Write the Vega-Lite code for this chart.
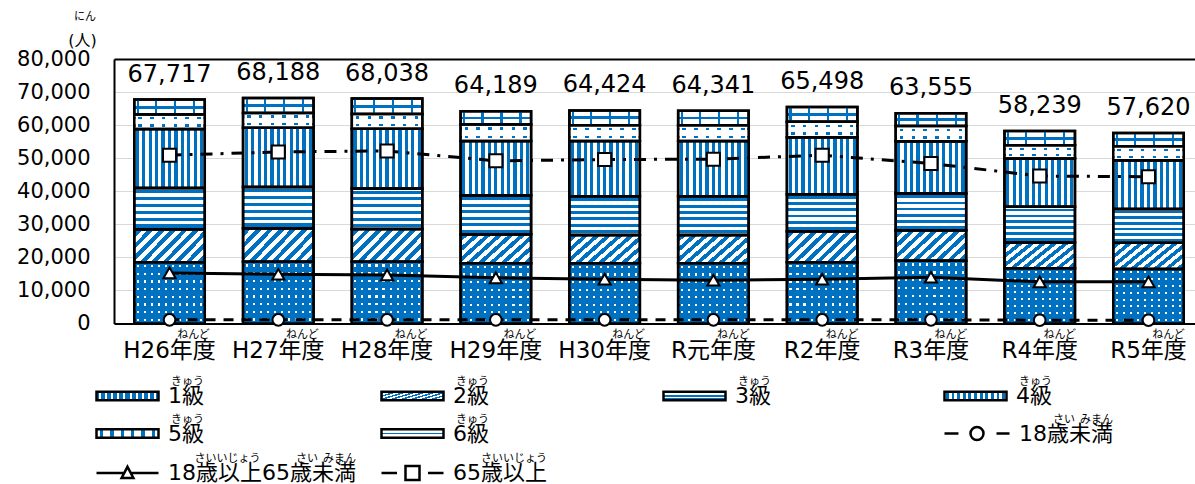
{
  "$schema": "https://vega.github.io/schema/vega-lite/v6.json",
  "width": 1081,
  "height": 264.5,
  "autosize": "none",
  "padding": {"left": 114, "top": 59, "right": 0, "bottom": 160.5},
  "background": "white",
  "title": {"text": "にん", "anchor": "start", "frame": "group", "orient": "top", "dx": -40, "offset": 10, "fontSize": 11, "font": "Noto Sans CJK JP", "fontWeight": "normal", "color": "black"},
  "config": {
    "view": {"stroke": null},
    "font": "DejaVu Sans, Noto Sans CJK JP",
    "legend": {"orient": "none", "padding": 0, "labelFontSize": 22, "labelColor": "black", "labelFont": "DejaVu Sans, Noto Sans CJK JP", "titleFont": "Noto Sans CJK JP", "titleFontSize": 11, "titleFontWeight": "normal", "titleColor": "black", "titlePadding": 0, "titleAnchor": "end", "clipHeight": 18, "symbolSize": 3844, "labelOffset": 8, "symbolStrokeWidth": 2.5, "symbolOffset": 0, "labelLimit": 400}
  },
  "datasets": {
    "grades": [
      {"year": "H26年度", "grade": "1級", "value": 18500}, {"year": "H26年度", "grade": "2級", "value": 10000}, {"year": "H26年度", "grade": "3級", "value": 12500}, {"year": "H26年度", "grade": "4級", "value": 17800}, {"year": "H26年度", "grade": "5級", "value": 4400}, {"year": "H26年度", "grade": "6級", "value": 4517},
      {"year": "H27年度", "grade": "1級", "value": 18700}, {"year": "H27年度", "grade": "2級", "value": 10100}, {"year": "H27年度", "grade": "3級", "value": 12500}, {"year": "H27年度", "grade": "4級", "value": 17900}, {"year": "H27年度", "grade": "5級", "value": 4500}, {"year": "H27年度", "grade": "6級", "value": 4488},
      {"year": "H28年度", "grade": "1級", "value": 18700}, {"year": "H28年度", "grade": "2級", "value": 9900}, {"year": "H28年度", "grade": "3級", "value": 12200}, {"year": "H28年度", "grade": "4級", "value": 18100}, {"year": "H28年度", "grade": "5級", "value": 4500}, {"year": "H28年度", "grade": "6級", "value": 4638},
      {"year": "H29年度", "grade": "1級", "value": 18200}, {"year": "H29年度", "grade": "2級", "value": 8800}, {"year": "H29年度", "grade": "3級", "value": 11700}, {"year": "H29年度", "grade": "4級", "value": 16500}, {"year": "H29年度", "grade": "5級", "value": 5000}, {"year": "H29年度", "grade": "6級", "value": 3989},
      {"year": "H30年度", "grade": "1級", "value": 18200}, {"year": "H30年度", "grade": "2級", "value": 8600}, {"year": "H30年度", "grade": "3級", "value": 11700}, {"year": "H30年度", "grade": "4級", "value": 16700}, {"year": "H30年度", "grade": "5級", "value": 4800}, {"year": "H30年度", "grade": "6級", "value": 4424},
      {"year": "R元年度", "grade": "1級", "value": 18200}, {"year": "R元年度", "grade": "2級", "value": 8600}, {"year": "R元年度", "grade": "3級", "value": 11700}, {"year": "R元年度", "grade": "4級", "value": 16700}, {"year": "R元年度", "grade": "5級", "value": 4800}, {"year": "R元年度", "grade": "6級", "value": 4341},
      {"year": "R2年度", "grade": "1級", "value": 18500}, {"year": "R2年度", "grade": "2級", "value": 9400}, {"year": "R2年度", "grade": "3級", "value": 11200}, {"year": "R2年度", "grade": "4級", "value": 17200}, {"year": "R2年度", "grade": "5級", "value": 4700}, {"year": "R2年度", "grade": "6級", "value": 4498},
      {"year": "R3年度", "grade": "1級", "value": 19000}, {"year": "R3年度", "grade": "2級", "value": 9200}, {"year": "R3年度", "grade": "3級", "value": 11100}, {"year": "R3年度", "grade": "4級", "value": 15800}, {"year": "R3年度", "grade": "5級", "value": 4600}, {"year": "R3年度", "grade": "6級", "value": 3855},
      {"year": "R4年度", "grade": "1級", "value": 16700}, {"year": "R4年度", "grade": "2級", "value": 7800}, {"year": "R4年度", "grade": "3級", "value": 10800}, {"year": "R4年度", "grade": "4級", "value": 14600}, {"year": "R4年度", "grade": "5級", "value": 4000}, {"year": "R4年度", "grade": "6級", "value": 4339},
      {"year": "R5年度", "grade": "1級", "value": 16500}, {"year": "R5年度", "grade": "2級", "value": 7900}, {"year": "R5年度", "grade": "3級", "value": 10200}, {"year": "R5年度", "grade": "4級", "value": 14800}, {"year": "R5年度", "grade": "5級", "value": 4200}, {"year": "R5年度", "grade": "6級", "value": 4020}
    ],
    "totals": [
      {"year": "H26年度", "total": 67717}, {"year": "H27年度", "total": 68188}, {"year": "H28年度", "total": 68038}, {"year": "H29年度", "total": 64189}, {"year": "H30年度", "total": 64424},
      {"year": "R元年度", "total": 64341}, {"year": "R2年度", "total": 65498}, {"year": "R3年度", "total": 63555}, {"year": "R4年度", "total": 58239}, {"year": "R5年度", "total": 57620}
    ],
    "ages": [
      {"year": "H26年度", "series": "18歳未満", "value": 1100}, {"year": "H27年度", "series": "18歳未満", "value": 1100}, {"year": "H28年度", "series": "18歳未満", "value": 1100}, {"year": "H29年度", "series": "18歳未満", "value": 1100}, {"year": "H30年度", "series": "18歳未満", "value": 1100},
      {"year": "R元年度", "series": "18歳未満", "value": 1100}, {"year": "R2年度", "series": "18歳未満", "value": 1100}, {"year": "R3年度", "series": "18歳未満", "value": 1100}, {"year": "R4年度", "series": "18歳未満", "value": 1000}, {"year": "R5年度", "series": "18歳未満", "value": 1000},
      {"year": "H26年度", "series": "18歳以上65歳未満", "value": 15300}, {"year": "H27年度", "series": "18歳以上65歳未満", "value": 14900}, {"year": "H28年度", "series": "18歳以上65歳未満", "value": 14700}, {"year": "H29年度", "series": "18歳以上65歳未満", "value": 13800}, {"year": "H30年度", "series": "18歳以上65歳未満", "value": 13400},
      {"year": "R元年度", "series": "18歳以上65歳未満", "value": 13100}, {"year": "R2年度", "series": "18歳以上65歳未満", "value": 13400}, {"year": "R3年度", "series": "18歳以上65歳未満", "value": 14000}, {"year": "R4年度", "series": "18歳以上65歳未満", "value": 12600}, {"year": "R5年度", "series": "18歳以上65歳未満", "value": 12600},
      {"year": "H26年度", "series": "65歳以上", "value": 50900}, {"year": "H27年度", "series": "65歳以上", "value": 51900}, {"year": "H28年度", "series": "65歳以上", "value": 52200}, {"year": "H29年度", "series": "65歳以上", "value": 49200}, {"year": "H30年度", "series": "65歳以上", "value": 49600},
      {"year": "R元年度", "series": "65歳以上", "value": 49700}, {"year": "R2年度", "series": "65歳以上", "value": 50900}, {"year": "R3年度", "series": "65歳以上", "value": 48400}, {"year": "R4年度", "series": "65歳以上", "value": 44600}, {"year": "R5年度", "series": "65歳以上", "value": 44400}
    ]
  },
  "layer": [
    {
      "data": {"name": "grades"},
      "transform": [{"stack": "value", "groupby": ["year"], "sort": [{"field": "grade", "order": "ascending"}], "as": ["v0", "v1"]}, {"filter": "datum.grade === '1級'"}],
      "mark": {"type": "bar", "strokeWidth": 2.5, "fill": {"gradient": "linear", "x1": 0, "y1": 0, "x2": 1, "y2": 0, "stops": [
            {"offset": 0, "color": "#0070c0"},
            {"offset": 0.035, "color": "#0070c0"}, {"offset": 0.035, "color": "#ffffff"}, {"offset": 0.065, "color": "#ffffff"}, {"offset": 0.065, "color": "#0070c0"},
            {"offset": 0.135, "color": "#0070c0"}, {"offset": 0.135, "color": "#ffffff"}, {"offset": 0.165, "color": "#ffffff"}, {"offset": 0.165, "color": "#0070c0"},
            {"offset": 0.235, "color": "#0070c0"}, {"offset": 0.235, "color": "#ffffff"}, {"offset": 0.265, "color": "#ffffff"}, {"offset": 0.265, "color": "#0070c0"},
            {"offset": 0.335, "color": "#0070c0"}, {"offset": 0.335, "color": "#ffffff"}, {"offset": 0.365, "color": "#ffffff"}, {"offset": 0.365, "color": "#0070c0"},
            {"offset": 0.435, "color": "#0070c0"}, {"offset": 0.435, "color": "#ffffff"}, {"offset": 0.465, "color": "#ffffff"}, {"offset": 0.465, "color": "#0070c0"},
            {"offset": 0.535, "color": "#0070c0"}, {"offset": 0.535, "color": "#ffffff"}, {"offset": 0.565, "color": "#ffffff"}, {"offset": 0.565, "color": "#0070c0"},
            {"offset": 0.635, "color": "#0070c0"}, {"offset": 0.635, "color": "#ffffff"}, {"offset": 0.665, "color": "#ffffff"}, {"offset": 0.665, "color": "#0070c0"},
            {"offset": 0.735, "color": "#0070c0"}, {"offset": 0.735, "color": "#ffffff"}, {"offset": 0.765, "color": "#ffffff"}, {"offset": 0.765, "color": "#0070c0"},
            {"offset": 0.835, "color": "#0070c0"}, {"offset": 0.835, "color": "#ffffff"}, {"offset": 0.865, "color": "#ffffff"}, {"offset": 0.865, "color": "#0070c0"},
            {"offset": 0.935, "color": "#0070c0"}, {"offset": 0.935, "color": "#ffffff"}, {"offset": 0.965, "color": "#ffffff"}, {"offset": 0.965, "color": "#0070c0"},
            {"offset": 1, "color": "#0070c0"}
          ]}},
      "encoding": {
        "x": {"field": "year", "type": "nominal", "scale": {"domain": ["H26年度", "H27年度", "H28年度", "H29年度", "H30年度", "R元年度", "R2年度", "R3年度", "R4年度", "R5年度"], "paddingInner": 0.352, "paddingOuter": 0.145, "align": 0.643}, "axis": null},
        "y": {"field": "v1", "type": "quantitative", "scale": {"domain": [0, 80000], "nice": false}, "axis": null},
        "y2": {"field": "v0"},
        "stroke": {"field": "grade", "type": "nominal", "scale": {"range": ["black"]}, "legend": {"title": "きゅう", "legendX": -19, "legendY": 317, "symbolType": "M-1,-0.14L1,-0.14L1,0.14L-1,0.14Z", "labelExpr": "datum.label + '\u00a0'"}}
      }
    },
    {
      "data": {"name": "grades"},
      "transform": [{"stack": "value", "groupby": ["year"], "sort": [{"field": "grade", "order": "ascending"}], "as": ["v0", "v1"]}, {"filter": "datum.grade === '2級'"}],
      "mark": {"type": "bar", "strokeWidth": 2.5, "fill": {"gradient": "linear", "x1": 0, "y1": 0, "x2": 1.205, "y2": 0.552, "stops": [
            {"offset": 0, "color": "#ffffff"},
            {"offset": 0.028, "color": "#ffffff"}, {"offset": 0.028, "color": "#0070c0"}, {"offset": 0.083, "color": "#0070c0"}, {"offset": 0.083, "color": "#ffffff"},
            {"offset": 0.139, "color": "#ffffff"}, {"offset": 0.139, "color": "#0070c0"}, {"offset": 0.194, "color": "#0070c0"}, {"offset": 0.194, "color": "#ffffff"},
            {"offset": 0.25, "color": "#ffffff"}, {"offset": 0.25, "color": "#0070c0"}, {"offset": 0.306, "color": "#0070c0"}, {"offset": 0.306, "color": "#ffffff"},
            {"offset": 0.361, "color": "#ffffff"}, {"offset": 0.361, "color": "#0070c0"}, {"offset": 0.417, "color": "#0070c0"}, {"offset": 0.417, "color": "#ffffff"},
            {"offset": 0.472, "color": "#ffffff"}, {"offset": 0.472, "color": "#0070c0"}, {"offset": 0.528, "color": "#0070c0"}, {"offset": 0.528, "color": "#ffffff"},
            {"offset": 0.583, "color": "#ffffff"}, {"offset": 0.583, "color": "#0070c0"}, {"offset": 0.639, "color": "#0070c0"}, {"offset": 0.639, "color": "#ffffff"},
            {"offset": 0.694, "color": "#ffffff"}, {"offset": 0.694, "color": "#0070c0"}, {"offset": 0.75, "color": "#0070c0"}, {"offset": 0.75, "color": "#ffffff"},
            {"offset": 0.806, "color": "#ffffff"}, {"offset": 0.806, "color": "#0070c0"}, {"offset": 0.861, "color": "#0070c0"}, {"offset": 0.861, "color": "#ffffff"},
            {"offset": 0.917, "color": "#ffffff"}, {"offset": 0.917, "color": "#0070c0"}, {"offset": 0.972, "color": "#0070c0"}, {"offset": 0.972, "color": "#ffffff"},
            {"offset": 1, "color": "#ffffff"}
          ]}},
      "encoding": {
        "x": {"field": "year", "type": "nominal", "scale": {"domain": ["H26年度", "H27年度", "H28年度", "H29年度", "H30年度", "R元年度", "R2年度", "R3年度", "R4年度", "R5年度"], "paddingInner": 0.352, "paddingOuter": 0.145, "align": 0.643}, "axis": null},
        "y": {"field": "v1", "type": "quantitative", "scale": {"domain": [0, 80000], "nice": false}, "axis": null},
        "y2": {"field": "v0"},
        "stroke": {"field": "grade", "type": "nominal", "scale": {"range": ["black"]}, "legend": {"title": "きゅう", "legendX": 266, "legendY": 317, "symbolType": "M-1,-0.14L1,-0.14L1,0.14L-1,0.14Z", "labelExpr": "datum.label + '\u00a0'"}}
      }
    },
    {
      "data": {"name": "grades"},
      "transform": [{"stack": "value", "groupby": ["year"], "sort": [{"field": "grade", "order": "ascending"}], "as": ["v0", "v1"]}, {"filter": "datum.grade === '3級'"}],
      "mark": {"type": "bar", "strokeWidth": 2.5, "fill": {"gradient": "linear", "x1": 0, "y1": 0, "x2": 0, "y2": 1, "stops": [
            {"offset": 0, "color": "#ffffff"},
            {"offset": 0.05, "color": "#ffffff"}, {"offset": 0.05, "color": "#0070c0"}, {"offset": 0.125, "color": "#0070c0"}, {"offset": 0.125, "color": "#ffffff"},
            {"offset": 0.217, "color": "#ffffff"}, {"offset": 0.217, "color": "#0070c0"}, {"offset": 0.292, "color": "#0070c0"}, {"offset": 0.292, "color": "#ffffff"},
            {"offset": 0.383, "color": "#ffffff"}, {"offset": 0.383, "color": "#0070c0"}, {"offset": 0.458, "color": "#0070c0"}, {"offset": 0.458, "color": "#ffffff"},
            {"offset": 0.55, "color": "#ffffff"}, {"offset": 0.55, "color": "#0070c0"}, {"offset": 0.625, "color": "#0070c0"}, {"offset": 0.625, "color": "#ffffff"},
            {"offset": 0.717, "color": "#ffffff"}, {"offset": 0.717, "color": "#0070c0"}, {"offset": 0.792, "color": "#0070c0"}, {"offset": 0.792, "color": "#ffffff"},
            {"offset": 0.883, "color": "#ffffff"}, {"offset": 0.883, "color": "#0070c0"}, {"offset": 0.958, "color": "#0070c0"}, {"offset": 0.958, "color": "#ffffff"},
            {"offset": 1, "color": "#ffffff"}
          ]}},
      "encoding": {
        "x": {"field": "year", "type": "nominal", "scale": {"domain": ["H26年度", "H27年度", "H28年度", "H29年度", "H30年度", "R元年度", "R2年度", "R3年度", "R4年度", "R5年度"], "paddingInner": 0.352, "paddingOuter": 0.145, "align": 0.643}, "axis": null},
        "y": {"field": "v1", "type": "quantitative", "scale": {"domain": [0, 80000], "nice": false}, "axis": null},
        "y2": {"field": "v0"},
        "stroke": {"field": "grade", "type": "nominal", "scale": {"range": ["black"]}, "legend": {"title": "きゅう", "legendX": 548, "legendY": 317, "symbolType": "M-1,-0.14L1,-0.14L1,0.14L-1,0.14Z", "labelExpr": "datum.label + '\u00a0'"}}
      }
    },
    {
      "data": {"name": "grades"},
      "transform": [{"stack": "value", "groupby": ["year"], "sort": [{"field": "grade", "order": "ascending"}], "as": ["v0", "v1"]}, {"filter": "datum.grade === '4級'"}],
      "mark": {"type": "bar", "strokeWidth": 2.5, "fill": {"gradient": "linear", "x1": 0, "y1": 0, "x2": 1, "y2": 0, "stops": [
            {"offset": 0, "color": "#ffffff"},
            {"offset": 0.023, "color": "#ffffff"}, {"offset": 0.023, "color": "#0070c0"}, {"offset": 0.068, "color": "#0070c0"}, {"offset": 0.068, "color": "#ffffff"},
            {"offset": 0.114, "color": "#ffffff"}, {"offset": 0.114, "color": "#0070c0"}, {"offset": 0.159, "color": "#0070c0"}, {"offset": 0.159, "color": "#ffffff"},
            {"offset": 0.205, "color": "#ffffff"}, {"offset": 0.205, "color": "#0070c0"}, {"offset": 0.25, "color": "#0070c0"}, {"offset": 0.25, "color": "#ffffff"},
            {"offset": 0.295, "color": "#ffffff"}, {"offset": 0.295, "color": "#0070c0"}, {"offset": 0.341, "color": "#0070c0"}, {"offset": 0.341, "color": "#ffffff"},
            {"offset": 0.386, "color": "#ffffff"}, {"offset": 0.386, "color": "#0070c0"}, {"offset": 0.432, "color": "#0070c0"}, {"offset": 0.432, "color": "#ffffff"},
            {"offset": 0.477, "color": "#ffffff"}, {"offset": 0.477, "color": "#0070c0"}, {"offset": 0.523, "color": "#0070c0"}, {"offset": 0.523, "color": "#ffffff"},
            {"offset": 0.568, "color": "#ffffff"}, {"offset": 0.568, "color": "#0070c0"}, {"offset": 0.614, "color": "#0070c0"}, {"offset": 0.614, "color": "#ffffff"},
            {"offset": 0.659, "color": "#ffffff"}, {"offset": 0.659, "color": "#0070c0"}, {"offset": 0.705, "color": "#0070c0"}, {"offset": 0.705, "color": "#ffffff"},
            {"offset": 0.75, "color": "#ffffff"}, {"offset": 0.75, "color": "#0070c0"}, {"offset": 0.795, "color": "#0070c0"}, {"offset": 0.795, "color": "#ffffff"},
            {"offset": 0.841, "color": "#ffffff"}, {"offset": 0.841, "color": "#0070c0"}, {"offset": 0.886, "color": "#0070c0"}, {"offset": 0.886, "color": "#ffffff"},
            {"offset": 0.932, "color": "#ffffff"}, {"offset": 0.932, "color": "#0070c0"}, {"offset": 0.977, "color": "#0070c0"}, {"offset": 0.977, "color": "#ffffff"},
            {"offset": 1, "color": "#ffffff"}
          ]}},
      "encoding": {
        "x": {"field": "year", "type": "nominal", "scale": {"domain": ["H26年度", "H27年度", "H28年度", "H29年度", "H30年度", "R元年度", "R2年度", "R3年度", "R4年度", "R5年度"], "paddingInner": 0.352, "paddingOuter": 0.145, "align": 0.643}, "axis": null},
        "y": {"field": "v1", "type": "quantitative", "scale": {"domain": [0, 80000], "nice": false}, "axis": null},
        "y2": {"field": "v0"},
        "stroke": {"field": "grade", "type": "nominal", "scale": {"range": ["black"]}, "legend": {"title": "きゅう", "legendX": 829, "legendY": 317, "symbolType": "M-1,-0.14L1,-0.14L1,0.14L-1,0.14Z", "labelExpr": "datum.label + '\u00a0'"}}
      }
    },
    {
      "data": {"name": "grades"},
      "transform": [{"stack": "value", "groupby": ["year"], "sort": [{"field": "grade", "order": "ascending"}], "as": ["v0", "v1"]}, {"filter": "datum.grade === '5級'"}],
      "mark": {"type": "bar", "strokeWidth": 2.5, "fill": {"gradient": "linear", "x1": 0, "y1": 0, "x2": 1, "y2": 0, "stops": [
            {"offset": 0, "color": "#ffffff"},
            {"offset": 0.058, "color": "#ffffff"}, {"offset": 0.058, "color": "#0070c0"}, {"offset": 0.108, "color": "#0070c0"}, {"offset": 0.108, "color": "#ffffff"},
            {"offset": 0.225, "color": "#ffffff"}, {"offset": 0.225, "color": "#0070c0"}, {"offset": 0.275, "color": "#0070c0"}, {"offset": 0.275, "color": "#ffffff"},
            {"offset": 0.392, "color": "#ffffff"}, {"offset": 0.392, "color": "#0070c0"}, {"offset": 0.442, "color": "#0070c0"}, {"offset": 0.442, "color": "#ffffff"},
            {"offset": 0.558, "color": "#ffffff"}, {"offset": 0.558, "color": "#0070c0"}, {"offset": 0.608, "color": "#0070c0"}, {"offset": 0.608, "color": "#ffffff"},
            {"offset": 0.725, "color": "#ffffff"}, {"offset": 0.725, "color": "#0070c0"}, {"offset": 0.775, "color": "#0070c0"}, {"offset": 0.775, "color": "#ffffff"},
            {"offset": 0.892, "color": "#ffffff"}, {"offset": 0.892, "color": "#0070c0"}, {"offset": 0.942, "color": "#0070c0"}, {"offset": 0.942, "color": "#ffffff"},
            {"offset": 1, "color": "#ffffff"}
          ]}},
      "encoding": {
        "x": {"field": "year", "type": "nominal", "scale": {"domain": ["H26年度", "H27年度", "H28年度", "H29年度", "H30年度", "R元年度", "R2年度", "R3年度", "R4年度", "R5年度"], "paddingInner": 0.352, "paddingOuter": 0.145, "align": 0.643}, "axis": null},
        "y": {"field": "v1", "type": "quantitative", "scale": {"domain": [0, 80000], "nice": false}, "axis": null},
        "y2": {"field": "v0"},
        "stroke": {"field": "grade", "type": "nominal", "scale": {"range": ["black"]}, "legend": {"title": "きゅう", "legendX": -19, "legendY": 354.5, "symbolType": "M-1,-0.14L1,-0.14L1,0.14L-1,0.14Z", "labelExpr": "datum.label + '\u00a0'"}}
      }
    },
    {
      "data": {"name": "grades"},
      "transform": [{"stack": "value", "groupby": ["year"], "sort": [{"field": "grade", "order": "ascending"}], "as": ["v0", "v1"]}, {"filter": "datum.grade === '6級'"}],
      "mark": {"type": "bar", "strokeWidth": 2.5, "fill": {"gradient": "linear", "x1": 0, "y1": 0, "x2": 0, "y2": 1, "stops": [
            {"offset": 0, "color": "#ffffff"},
            {"offset": 0.4, "color": "#ffffff"}, {"offset": 0.4, "color": "#0070c0"}, {"offset": 0.6, "color": "#0070c0"}, {"offset": 0.6, "color": "#ffffff"},
            {"offset": 1, "color": "#ffffff"}
          ]}},
      "encoding": {
        "x": {"field": "year", "type": "nominal", "scale": {"domain": ["H26年度", "H27年度", "H28年度", "H29年度", "H30年度", "R元年度", "R2年度", "R3年度", "R4年度", "R5年度"], "paddingInner": 0.352, "paddingOuter": 0.145, "align": 0.643}, "axis": null},
        "y": {"field": "v1", "type": "quantitative", "scale": {"domain": [0, 80000], "nice": false}, "axis": null},
        "y2": {"field": "v0"},
        "stroke": {"field": "grade", "type": "nominal", "scale": {"range": ["black"]}, "legend": {"title": "きゅう", "legendX": 266, "legendY": 354.5, "symbolType": "M-1,-0.14L1,-0.14L1,0.14L-1,0.14Z", "labelExpr": "datum.label + '\u00a0'"}}
      }
    },
    {
      "data": {"name": "grades"},
      "transform": [{"stack": "value", "groupby": ["year"], "sort": [{"field": "grade", "order": "ascending"}], "as": ["v0", "v1"]}, {"filter": "datum.grade === '1級'"}],
      "mark": {"type": "bar", "fill": {"gradient": "linear", "x1": 0, "y1": 0, "x2": 0, "y2": 1, "stops": [
        {"offset": 0, "color": "#0070c0"},
        {"offset": 0.044, "color": "#0070c0"}, {"offset": 0.044, "color": "rgba(255,255,255,0)"}, {"offset": 0.081, "color": "rgba(255,255,255,0)"}, {"offset": 0.081, "color": "#0070c0"},
        {"offset": 0.169, "color": "#0070c0"}, {"offset": 0.169, "color": "rgba(255,255,255,0)"}, {"offset": 0.206, "color": "rgba(255,255,255,0)"}, {"offset": 0.206, "color": "#0070c0"},
        {"offset": 0.294, "color": "#0070c0"}, {"offset": 0.294, "color": "rgba(255,255,255,0)"}, {"offset": 0.331, "color": "rgba(255,255,255,0)"}, {"offset": 0.331, "color": "#0070c0"},
        {"offset": 0.419, "color": "#0070c0"}, {"offset": 0.419, "color": "rgba(255,255,255,0)"}, {"offset": 0.456, "color": "rgba(255,255,255,0)"}, {"offset": 0.456, "color": "#0070c0"},
        {"offset": 0.544, "color": "#0070c0"}, {"offset": 0.544, "color": "rgba(255,255,255,0)"}, {"offset": 0.581, "color": "rgba(255,255,255,0)"}, {"offset": 0.581, "color": "#0070c0"},
        {"offset": 0.669, "color": "#0070c0"}, {"offset": 0.669, "color": "rgba(255,255,255,0)"}, {"offset": 0.706, "color": "rgba(255,255,255,0)"}, {"offset": 0.706, "color": "#0070c0"},
        {"offset": 0.794, "color": "#0070c0"}, {"offset": 0.794, "color": "rgba(255,255,255,0)"}, {"offset": 0.831, "color": "rgba(255,255,255,0)"}, {"offset": 0.831, "color": "#0070c0"},
        {"offset": 0.919, "color": "#0070c0"}, {"offset": 0.919, "color": "rgba(255,255,255,0)"}, {"offset": 0.956, "color": "rgba(255,255,255,0)"}, {"offset": 0.956, "color": "#0070c0"},
        {"offset": 1, "color": "#0070c0"}
      ]}},
      "encoding": {
        "x": {"field": "year", "type": "nominal", "scale": {"domain": ["H26年度", "H27年度", "H28年度", "H29年度", "H30年度", "R元年度", "R2年度", "R3年度", "R4年度", "R5年度"], "paddingInner": 0.352, "paddingOuter": 0.145, "align": 0.643}, "axis": null},
        "y": {"field": "v1", "type": "quantitative", "scale": {"domain": [0, 80000], "nice": false}, "axis": null},
        "y2": {"field": "v0"}
      }
    },
    {
      "data": {"name": "grades"},
      "transform": [{"stack": "value", "groupby": ["year"], "sort": [{"field": "grade", "order": "ascending"}], "as": ["v0", "v1"]}, {"filter": "datum.grade === '5級'"}],
      "mark": {"type": "bar", "fill": {"gradient": "linear", "x1": 0, "y1": 0, "x2": 0, "y2": 1, "stops": [
        {"offset": 0, "color": "#ffffff"},
        {"offset": 0.175, "color": "#ffffff"}, {"offset": 0.175, "color": "rgba(255,255,255,0)"}, {"offset": 0.325, "color": "rgba(255,255,255,0)"}, {"offset": 0.325, "color": "#ffffff"},
        {"offset": 0.675, "color": "#ffffff"}, {"offset": 0.675, "color": "rgba(255,255,255,0)"}, {"offset": 0.825, "color": "rgba(255,255,255,0)"}, {"offset": 0.825, "color": "#ffffff"},
        {"offset": 1, "color": "#ffffff"}
      ]}},
      "encoding": {
        "x": {"field": "year", "type": "nominal", "scale": {"domain": ["H26年度", "H27年度", "H28年度", "H29年度", "H30年度", "R元年度", "R2年度", "R3年度", "R4年度", "R5年度"], "paddingInner": 0.352, "paddingOuter": 0.145, "align": 0.643}, "axis": null},
        "y": {"field": "v1", "type": "quantitative", "scale": {"domain": [0, 80000], "nice": false}, "axis": null},
        "y2": {"field": "v0"}
      }
    },
    {
      "data": {"name": "grades"},
      "transform": [{"stack": "value", "groupby": ["year"], "sort": [{"field": "grade", "order": "ascending"}], "as": ["v0", "v1"]}, {"filter": "datum.grade === '6級'"}],
      "mark": {"type": "bar", "fill": {"gradient": "linear", "x1": 0, "y1": 0, "x2": 1, "y2": 0, "stops": [
        {"offset": 0, "color": "rgba(255,255,255,0)"},
        {"offset": 0.035, "color": "rgba(255,255,255,0)"}, {"offset": 0.035, "color": "#0070c0"}, {"offset": 0.065, "color": "#0070c0"}, {"offset": 0.065, "color": "rgba(255,255,255,0)"},
        {"offset": 0.295, "color": "rgba(255,255,255,0)"}, {"offset": 0.295, "color": "#0070c0"}, {"offset": 0.325, "color": "#0070c0"}, {"offset": 0.325, "color": "rgba(255,255,255,0)"},
        {"offset": 0.565, "color": "rgba(255,255,255,0)"}, {"offset": 0.565, "color": "#0070c0"}, {"offset": 0.595, "color": "#0070c0"}, {"offset": 0.595, "color": "rgba(255,255,255,0)"},
        {"offset": 0.835, "color": "rgba(255,255,255,0)"}, {"offset": 0.835, "color": "#0070c0"}, {"offset": 0.865, "color": "#0070c0"}, {"offset": 0.865, "color": "rgba(255,255,255,0)"},
        {"offset": 1, "color": "rgba(255,255,255,0)"}
      ]}},
      "encoding": {
        "x": {"field": "year", "type": "nominal", "scale": {"domain": ["H26年度", "H27年度", "H28年度", "H29年度", "H30年度", "R元年度", "R2年度", "R3年度", "R4年度", "R5年度"], "paddingInner": 0.352, "paddingOuter": 0.145, "align": 0.643}, "axis": null},
        "y": {"field": "v1", "type": "quantitative", "scale": {"domain": [0, 80000], "nice": false}, "axis": null},
        "y2": {"field": "v0"}
      }
    },
    {
      "data": {"name": "grades"},
      "transform": [{"stack": "value", "groupby": ["year"], "sort": [{"field": "grade", "order": "ascending"}], "as": ["v0", "v1"]}],
      "mark": {"type": "bar", "fill": "transparent", "stroke": "black", "strokeWidth": 2.5},
      "encoding": {
        "x": {"field": "year", "type": "nominal", "scale": {"domain": ["H26年度", "H27年度", "H28年度", "H29年度", "H30年度", "R元年度", "R2年度", "R3年度", "R4年度", "R5年度"], "paddingInner": 0.352, "paddingOuter": 0.145, "align": 0.643},
          "axis": {"orient": "bottom", "title": null, "domain": true, "domainColor": "black", "domainWidth": 2, "ticks": false, "grid": false, "labelAngle": 0, "labelFontSize": 23, "labelColor": "black", "labelPadding": 16, "labelOverlap": false, "labelFont": "DejaVu Sans, Noto Sans CJK JP"}},
        "y": {"field": "v1", "type": "quantitative", "scale": {"domain": [0, 80000], "nice": false},
          "axis": {"orient": "left", "title": "(人)", "titleAngle": 0, "titleX": -32, "titleY": -19, "titleAlign": "center", "titleBaseline": "middle", "titleFontSize": 16, "titleFontWeight": "normal", "titleColor": "black", "titleFont": "DejaVu Sans, Noto Sans CJK JP",
            "values": [0, 10000, 20000, 30000, 40000, 50000, 60000, 70000, 80000], "format": ",d", "labelFontSize": 21, "labelColor": "black", "labelPadding": 24, "ticks": false, "domain": true, "domainColor": "black", "domainWidth": 2, "grid": true,
            "gridColor": {"condition": {"test": "datum.value === 80000", "value": "black"}, "value": "#d9d9d9"},
            "gridWidth": {"condition": {"test": "datum.value === 80000", "value": 2}, "value": 1}}},
        "y2": {"field": "v0"}
      }
    },
    {
      "data": {"name": "ages"},
      "transform": [{"filter": "datum.series === '18歳未満'"}],
      "mark": {"type": "line", "color": "black", "strokeWidth": 3, "strokeDash": [10, 8]},
      "encoding": {
        "x": {"field": "year", "type": "nominal", "scale": {"domain": ["H26年度", "H27年度", "H28年度", "H29年度", "H30年度", "R元年度", "R2年度", "R3年度", "R4年度", "R5年度"], "paddingInner": 0.352, "paddingOuter": 0.145, "align": 0.643}, "axis": null},
        "y": {"field": "value", "type": "quantitative", "scale": {"domain": [0, 80000], "nice": false}, "axis": null}
      }
    },
    {
      "data": {"name": "ages"},
      "transform": [{"filter": "datum.series === '18歳以上65歳未満'"}],
      "mark": {"type": "line", "color": "black", "strokeWidth": 3},
      "encoding": {
        "x": {"field": "year", "type": "nominal", "scale": {"domain": ["H26年度", "H27年度", "H28年度", "H29年度", "H30年度", "R元年度", "R2年度", "R3年度", "R4年度", "R5年度"], "paddingInner": 0.352, "paddingOuter": 0.145, "align": 0.643}, "axis": null},
        "y": {"field": "value", "type": "quantitative", "scale": {"domain": [0, 80000], "nice": false}, "axis": null}
      }
    },
    {
      "data": {"name": "ages"},
      "transform": [{"filter": "datum.series === '65歳以上'"}],
      "mark": {"type": "line", "color": "black", "strokeWidth": 3, "strokeDash": [12, 8, 3, 8]},
      "encoding": {
        "x": {"field": "year", "type": "nominal", "scale": {"domain": ["H26年度", "H27年度", "H28年度", "H29年度", "H30年度", "R元年度", "R2年度", "R3年度", "R4年度", "R5年度"], "paddingInner": 0.352, "paddingOuter": 0.145, "align": 0.643}, "axis": null},
        "y": {"field": "value", "type": "quantitative", "scale": {"domain": [0, 80000], "nice": false}, "axis": null}
      }
    },
    {
      "data": {"name": "ages"},
      "transform": [{"filter": "datum.series === '18歳未満'"}],
      "mark": {"type": "point", "shape": "circle", "filled": true, "fill": "white", "strokeWidth": 2, "size": 135, "opacity": 1},
      "encoding": {
        "x": {"field": "year", "type": "nominal", "scale": {"domain": ["H26年度", "H27年度", "H28年度", "H29年度", "H30年度", "R元年度", "R2年度", "R3年度", "R4年度", "R5年度"], "paddingInner": 0.352, "paddingOuter": 0.145, "align": 0.643}, "axis": null},
        "y": {"field": "value", "type": "quantitative", "scale": {"domain": [0, 80000], "nice": false}, "axis": null},
        "stroke": {"field": "series", "type": "nominal", "scale": {"range": ["black"]},
          "legend": {"title": "さい\u00a0\u00a0みまん", "legendX": 829, "legendY": 354.5, "symbolSize": 4225, "symbolType": "M-1,0L-0.57,0M0.6,0L1,0M-0.2,0A0.2,0.2,0,1,1,0.2,0A0.2,0.2,0,1,1,-0.2,0Z", "symbolFillColor": "white"}}
      }
    },
    {
      "data": {"name": "ages"},
      "transform": [{"filter": "datum.series === '18歳以上65歳未満'"}],
      "mark": {"type": "point", "shape": "triangle-up", "filled": true, "fill": "white", "strokeWidth": 2, "size": 150, "opacity": 1},
      "encoding": {
        "x": {"field": "year", "type": "nominal", "scale": {"domain": ["H26年度", "H27年度", "H28年度", "H29年度", "H30年度", "R元年度", "R2年度", "R3年度", "R4年度", "R5年度"], "paddingInner": 0.352, "paddingOuter": 0.145, "align": 0.643}, "axis": null},
        "y": {"field": "value", "type": "quantitative", "scale": {"domain": [0, 80000], "nice": false}, "axis": null},
        "stroke": {"field": "series", "type": "nominal", "scale": {"range": ["black"]},
          "legend": {"title": "さいいじょう\u3000\u3000\u3000\u00a0さい\u00a0\u00a0みまん", "legendX": -19, "legendY": 394, "symbolSize": 3844, "symbolType": "M-1,0L-0.106,0M0.106,0L1,0M0,-0.2L0.19,0.16L-0.19,0.16Z", "symbolFillColor": "white"}}
      }
    },
    {
      "data": {"name": "ages"},
      "transform": [{"filter": "datum.series === '65歳以上'"}],
      "mark": {"type": "point", "shape": "square", "filled": true, "fill": "white", "strokeWidth": 2, "size": 170, "opacity": 1},
      "encoding": {
        "x": {"field": "year", "type": "nominal", "scale": {"domain": ["H26年度", "H27年度", "H28年度", "H29年度", "H30年度", "R元年度", "R2年度", "R3年度", "R4年度", "R5年度"], "paddingInner": 0.352, "paddingOuter": 0.145, "align": 0.643}, "axis": null},
        "y": {"field": "value", "type": "quantitative", "scale": {"domain": [0, 80000], "nice": false}, "axis": null},
        "stroke": {"field": "series", "type": "nominal", "scale": {"range": ["black"]},
          "legend": {"title": "さいいじょう", "legendX": 266, "legendY": 394, "symbolSize": 3844, "symbolType": "M-1,0L-0.5,0M0.5,0L1,0M-0.226,-0.226L0.226,-0.226L0.226,0.226L-0.226,0.226Z", "symbolFillColor": "white"}}
      }
    },
    {
      "data": {"name": "totals"},
      "mark": {"type": "text", "fontSize": 24, "dy": -25, "baseline": "middle", "align": "center", "color": "black", "font": "DejaVu Sans"},
      "encoding": {
        "x": {"field": "year", "type": "nominal", "scale": {"domain": ["H26年度", "H27年度", "H28年度", "H29年度", "H30年度", "R元年度", "R2年度", "R3年度", "R4年度", "R5年度"], "paddingInner": 0.352, "paddingOuter": 0.145, "align": 0.643},
          "axis": {"orient": "bottom", "title": null, "domain": false, "ticks": false, "grid": false, "labelAngle": 0, "labelExpr": "'ねんど'", "labelFontSize": 11, "labelFont": "Noto Sans CJK JP", "labelColor": "black", "labelPadding": 5, "labelOverlap": false,
            "labelOffset": {"condition": {"test": "indexof(datum.value, 'H') === 0", "value": 24}, "value": 20}}},
        "y": {"field": "total", "type": "quantitative", "scale": {"domain": [0, 80000], "nice": false}, "axis": null},
        "text": {"field": "total", "type": "quantitative", "format": ","}
      }
    }
  ],
  "resolve": {"scale": {"stroke": "independent"}, "axis": {"x": "independent", "y": "independent"}}
}
